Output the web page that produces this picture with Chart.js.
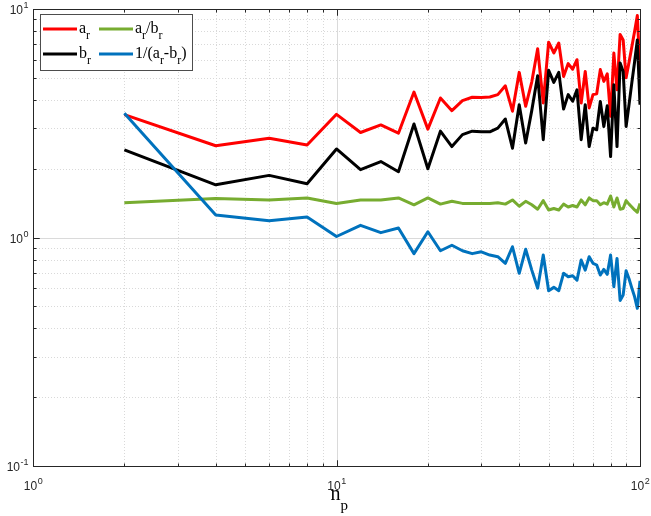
<!DOCTYPE html>
<html>
<head>
<meta charset="utf-8">
<script src="https://cdn.jsdelivr.net/npm/chart.js@4"></script>
<style>
  html, body { margin: 0; padding: 0; background: #fff; }
  #wrap { width: 651px; height: 516px; }
</style>
</head>
<body>
<div id="wrap"><canvas id="grafico" width="651" height="516"></canvas></div>
<script>
// ===== DADOS =====
const np = [2, 4, 6, 8, 10, 12, 14, 16, 18, 20,
            22, 24, 26, 28, 30, 32, 34, 36, 38, 40,
            42, 44, 46, 48, 50, 52, 54, 56, 58, 60,
            62, 64, 66, 68, 70, 72, 74, 76, 78, 80,
            82, 84, 86, 88, 90, 92, 94, 96, 98, 100];

const ar = [3.45, 2.52, 2.72, 2.54, 3.46, 2.88, 3.11, 2.86, 4.33, 2.98,
            4.08, 3.59, 3.97, 4.11, 4.10, 4.12, 4.22, 4.61, 3.57, 5.28,
            3.75, 4.80, 6.70, 3.88, 7.16, 6.42, 7.10, 5.07, 5.77, 5.45,
            6.00, 3.88, 5.33, 3.69, 4.22, 4.26, 5.43, 4.82, 5.20, 3.39,
            6.42, 4.43, 7.74, 7.32, 5.00, 5.84, 6.84, 8.00, 9.36, 5.33];

const br = [2.42, 1.70, 1.87, 1.72, 2.44, 1.98, 2.15, 1.94, 3.14, 2.00,
            2.92, 2.50, 2.82, 2.92, 2.90, 2.90, 3.01, 3.30, 2.46, 3.81,
            2.59, 3.60, 5.10, 2.68, 5.39, 4.77, 5.28, 3.65, 4.22, 3.95,
            4.43, 2.68, 3.81, 2.50, 3.01, 2.96, 3.94, 3.06, 3.77, 2.26,
            4.66, 2.50, 5.81, 5.33, 3.06, 3.81, 4.76, 5.88, 7.32, 3.81];

const razao = [1.42, 1.48, 1.46, 1.49, 1.41, 1.46, 1.46, 1.49, 1.39, 1.49,
               1.40, 1.44, 1.41, 1.41, 1.41, 1.41, 1.42, 1.40, 1.46, 1.37,
               1.44, 1.39, 1.33, 1.45, 1.32, 1.34, 1.32, 1.40, 1.36, 1.38,
               1.36, 1.46, 1.39, 1.49, 1.45, 1.45, 1.39, 1.42, 1.40, 1.52,
               1.36, 1.49, 1.33, 1.34, 1.45, 1.40, 1.36, 1.32, 1.29, 1.41];

const inverso = [3.50, 1.255, 1.185, 1.23, 1.01, 1.13, 1.05, 1.10, 0.85, 1.06,
                 0.875, 0.925, 0.875, 0.85, 0.866, 0.838, 0.824, 0.771, 0.911, 0.697,
                 0.888, 0.72, 0.60, 0.838, 0.585, 0.605, 0.585, 0.697, 0.673, 0.68,
                 0.651, 0.797, 0.72, 0.824, 0.771, 0.758, 0.685, 0.725, 0.69, 0.838,
                 0.609, 0.81, 0.53, 0.56, 0.715, 0.66, 0.60, 0.55, 0.49, 0.646];

// marcas das decadas (valor, expoente)
const xDecadas = [1, 10, 100];
const xExpoentes = ['0', '1', '2'];
const yDecadas = [0.1, 1, 10];
const yExpoentes = ['-1', '0', '1'];

// legenda: cor + partes do texto [texto, subscrito?]
const legendaItens = [
  { cor: '#FF0000', partes: [['a', false], ['r', true]] },
  { cor: '#77AC30', partes: [['a', false], ['r', true], ['/b', false], ['r', true]] },
  { cor: '#000000', partes: [['b', false], ['r', true]] },
  { cor: '#0072BD', partes: [['1/(a', false], ['r', true], ['-b', false], ['r', true], [')', false]] }
];

const pontos = serie => np.map((v, i) => ({ x: v, y: serie[i] }));

const corEixo = '#262626';
const fonteSerif = '"Liberation Serif", "DejaVu Serif", serif';
const fonteSans = '"Liberation Sans", Arial, sans-serif';

// texto com subscritos, retorna a largura
function textoSub(ctx, partes, x, y, tam, tamSub, desc) {
  let px = x;
  partes.forEach(([t, sub]) => {
    ctx.font = (sub ? tamSub : tam) + 'px ' + fonteSerif;
    ctx.fillText(t, px, sub ? y + desc : y);
    px += ctx.measureText(t).width;
  });
  return px - x;
}

// ===== GRADE, EIXOS, ROTULOS E LEGENDA =====
const eixos = {
  id: 'eixos',
  beforeDatasetsDraw(chart) {
    const { ctx, chartArea: a, scales: { x, y } } = chart;
    ctx.save();
    ctx.lineWidth = 1;
    // grade menor pontilhada
    ctx.strokeStyle = '#d9d9d9';
    ctx.setLineDash([1, 2]);
    [1, 10].forEach(d => {
      for (let m = 2; m <= 9; m++) {
        const px = Math.round(x.getPixelForValue(d * m)) + 0.5;
        ctx.beginPath(); ctx.moveTo(px, a.top); ctx.lineTo(px, a.bottom); ctx.stroke();
      }
    });
    [0.1, 1].forEach(d => {
      for (let m = 2; m <= 9; m++) {
        const py = Math.round(y.getPixelForValue(d * m)) + 0.5;
        ctx.beginPath(); ctx.moveTo(a.left, py); ctx.lineTo(a.right, py); ctx.stroke();
      }
    });
    // grade maior
    ctx.setLineDash([]);
    ctx.strokeStyle = '#dadada';
    const gx = Math.round(x.getPixelForValue(10)) + 0.5;
    ctx.beginPath(); ctx.moveTo(gx, a.top); ctx.lineTo(gx, a.bottom); ctx.stroke();
    const gy = Math.round(y.getPixelForValue(1)) + 0.5;
    ctx.beginPath(); ctx.moveTo(a.left, gy); ctx.lineTo(a.right, gy); ctx.stroke();
    ctx.restore();
  },
  afterDatasetsDraw(chart) {
    const { ctx, chartArea: a, scales: { x, y } } = chart;
    const L = Math.round(a.left) + 0.5, R = Math.round(a.right) + 0.5;
    const T = Math.round(a.top) + 0.5, B = Math.round(a.bottom) + 0.5;
    ctx.save();
    ctx.strokeStyle = corEixo;
    ctx.lineWidth = 1;
    ctx.strokeRect(L, T, R - L, B - T);

    // marcas para dentro nos quatro lados
    const risco = (x1, y1, x2, y2) => { ctx.beginPath(); ctx.moveTo(x1, y1); ctx.lineTo(x2, y2); ctx.stroke(); };
    [1, 10].forEach(d => {
      for (let m = 1; m <= 10; m++) {
        const px = Math.round(x.getPixelForValue(d * m)) + 0.5;
        const t = (m === 1 || m === 10) ? 6 : 3;
        risco(px, B, px, B - t); risco(px, T, px, T + t);
      }
    });
    [0.1, 1].forEach(d => {
      for (let m = 1; m <= 10; m++) {
        const py = Math.round(y.getPixelForValue(d * m)) + 0.5;
        const t = (m === 1 || m === 10) ? 6 : 3;
        risco(L, py, L + t, py); risco(R, py, R - t, py);
      }
    });

    // rotulos 10^n
    ctx.fillStyle = corEixo;
    ctx.textBaseline = 'alphabetic';
    ctx.textAlign = 'left';
    xDecadas.forEach((v, i) => {
      ctx.font = '12px ' + fonteSans;
      const wb = ctx.measureText('10').width;
      ctx.font = '9px ' + fonteSans;
      const we = ctx.measureText(xExpoentes[i]).width;
      const px = x.getPixelForValue(v) - (wb + we) / 2;
      ctx.font = '12px ' + fonteSans;
      ctx.fillText('10', px, 490);
      ctx.font = '9px ' + fonteSans;
      ctx.fillText(xExpoentes[i], px + wb + 0.5, 484);
    });
    yDecadas.forEach((v, i) => {
      const py = y.getPixelForValue(v);
      ctx.font = '9px ' + fonteSans;
      const we = ctx.measureText(yExpoentes[i]).width;
      ctx.font = '12px ' + fonteSans;
      const wb = ctx.measureText('10').width;
      const px = 28 - we - wb;
      ctx.fillText('10', px, py + 5);
      ctx.font = '9px ' + fonteSans;
      ctx.fillText(yExpoentes[i], px + wb + 0.5, py - 1);
    });

    // titulo do eixo x: n_p
    ctx.fillStyle = '#000';
    ctx.font = '20px ' + fonteSerif;
    const xc = x.getPixelForValue(10);
    const wn = ctx.measureText('n').width;
    ctx.fillText('n', xc - 6, 500);
    ctx.font = '15px ' + fonteSerif;
    ctx.fillText('p', xc - 6 + wn, 510);

    // legenda
    ctx.fillStyle = '#fff';
    ctx.fillRect(40, 14, 153, 56);
    ctx.strokeStyle = '#4d4d4d';
    ctx.strokeRect(40.5, 14.5, 152, 56);
    legendaItens.forEach((it, i) => {
      const col = i % 2, lin = Math.floor(i / 2);
      const lx = col === 0 ? 43 : 99;
      const ly = lin === 0 ? 29 : 54;
      ctx.strokeStyle = it.cor;
      ctx.lineWidth = 3;
      risco(lx, ly, lx + 34, ly);
      ctx.fillStyle = '#000';
      textoSub(ctx, it.partes, lx + 36, ly + 4, 16, 12, 6);
    });
    ctx.restore();
  }
};

// ===== GRAFICO =====
const serie = (label, dados, cor, ordem) => ({
  label,
  data: pontos(dados),
  borderColor: cor,
  backgroundColor: cor,
  borderWidth: 3,
  pointRadius: 0,
  tension: 0,
  borderJoinStyle: 'round',
  order: ordem
});

new Chart(document.getElementById('grafico').getContext('2d'), {
  type: 'line',
  data: {
    datasets: [
      serie('a_r', ar, '#FF0000', 3),
      serie('b_r', br, '#000000', 2),
      serie('a_r/b_r', razao, '#77AC30', 1),
      serie('1/(a_r-b_r)', inverso, '#0072BD', 0)
    ]
  },
  options: {
    responsive: false,
    animation: false,
    devicePixelRatio: 1,
    layout: { padding: { left: 33, right: 11, top: 9, bottom: 50 } },
    plugins: { legend: { display: false }, tooltip: { enabled: false } },
    scales: {
      x: { type: 'logarithmic', min: 1, max: 100, display: false },
      y: { type: 'logarithmic', min: 0.1, max: 10, display: false }
    }
  },
  plugins: [eixos]
});
</script>
</body>
</html>
